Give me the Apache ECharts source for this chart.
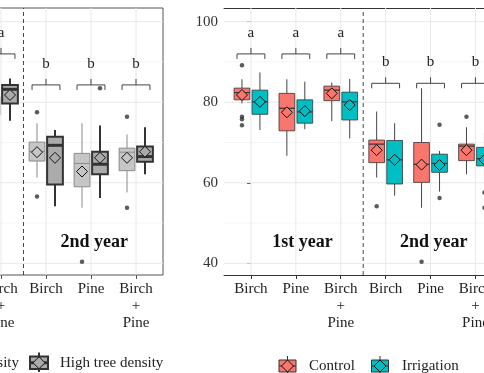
<!DOCTYPE html>
<html><head><meta charset="utf-8">
<script src="https://cdn.jsdelivr.net/npm/echarts@6/dist/echarts.min.js"></script>
<style>html,body{margin:0;padding:0;background:#fff}#c{width:484px;height:373px}</style>
</head><body><div id="c"></div>
<script>
// ---------- data ----------
const categories = ['Birch', 'Pine', 'Birch\n+\nPine', 'Birch', 'Pine', 'Birch\n+\nPine'];
const yTicks = [40, 60, 80, 100];
const yMinor = [50, 70, 90];
const yearLabels = ['1st year', '2nd year'];
const yearLabelX = [1.15, 4.07];
const yearLabelY = 45.1;

// right panel  [whiskerLow, q1, median, q3, whiskerHigh]
const controlBox = [
  [79.7, 80.6, 82.4, 83.5, 85.7],
  [66.7, 72.9, 78.5, 82.2, 85.7],
  [75.3, 80.4, 83.0, 84.0, 84.9],
  [61.3, 65.0, 69.6, 70.6, 77.7],
  [53.8, 60.1, 64.6, 70.0, 83.5],
  [62.1, 65.5, 69.1, 69.6, 73.8]
];
const controlMean = [81.8, 77.5, 82.2, 68.1, 64.5, 68.1];
const controlOut = [[89.2, 76.4, 75.8, 74.3], [], [], [54.2], [40.4], [76.4]];

const irrigationBox = [
  [73.1, 77.0, 80.1, 83.0, 87.4],
  [73.3, 74.8, 77.6, 80.6, 85.1],
  [71.0, 75.6, 80.1, 82.5, 85.8],
  [56.8, 59.7, 65.7, 70.5, 74.8],
  [57.8, 62.6, 64.8, 67.1, 67.9],
  [61.3, 64.2, 66.0, 68.8, 72.3]
];
const irrigationMean = [80.1, 77.8, 79.3, 65.7, 64.4, 65.7];
const irrigationOut = [[], [], [], [], [74.4, 56.2], [57.6, 53.8]];

const rightLetters = ['a', 'a', 'a', 'b', 'b', 'b'];
const rightBracketY = [92.0, 92.0, 92.0, 84.7, 84.7, 84.7];

// left panel (only visible part of the source figure)
const lowBox = [
  null, null,
  [73.5, 76.8, 79.5, 81.4, 85.5],
  [61.3, 65.4, 67.8, 70.1, 74.8],
  [53.8, 59.0, 64.8, 67.3, 74.8],
  [57.6, 63.0, 67.6, 68.6, 72.0]
];
const lowMean = [null, null, 79.0, 67.6, 62.8, 66.2];
const lowOut = [[], [], [], [77.5, 56.6], [40.4], [76.4, 53.8]];

const highBox = [
  null, null,
  [75.4, 79.7, 83.2, 84.3, 85.9],
  [54.2, 59.6, 69.3, 71.4, 73.1],
  [56.2, 62.1, 64.6, 67.7, 74.2],
  [62.1, 65.2, 66.5, 69.0, 73.8]
];
const highMean = [null, null, 81.8, 66.2, 66.2, 67.7];
const highOut = [[], [], [], [], [83.5], []];

const leftLetters = ['a', 'a', 'a', 'b', 'b', 'b'];
const leftBracketY = [92.0, 92.0, 92.0, 84.3, 84.3, 84.3];

// ---------- config ----------
const FONT = "'Liberation Serif','Times New Roman',serif";
const X_MIN = -0.6, X_MAX = 5.6, Y_MIN = 37.1, Y_MAX = 103.4;
const catIdx = categories.map((c, i) => i);
const RED = '#F8766D', TEAL = '#00BFC4', LOWG = '#c6c6c6', HIGHG = '#ababab';

const chart = echarts.init(document.getElementById('c'), null, {renderer: 'canvas'});

function gridLineSeries(xi, yi) {
  const data = [];
  yTicks.forEach(v => data.push([0, v, 1]));
  yMinor.forEach(v => data.push([0, v, 0]));
  catIdx.forEach(i => data.push([i, 60, 2]));
  return {
    type: 'custom', xAxisIndex: xi, yAxisIndex: yi, z: 1, silent: true, clip: true,
    encode: {x: 0, y: 1}, data,
    renderItem(p, api) {
      const kind = api.value(2);
      let a, b;
      if (kind === 2) { a = api.coord([api.value(0), Y_MIN]); b = api.coord([api.value(0), Y_MAX]); }
      else { a = api.coord([X_MIN, api.value(1)]); b = api.coord([X_MAX, api.value(1)]); }
      return {type: 'line', shape: {x1: a[0], y1: a[1], x2: b[0], y2: b[1]},
        style: {stroke: kind === 0 ? '#f3f3f3' : '#e8e8e8', lineWidth: kind === 0 ? 0.8 : 1}};
    }
  };
}

function sepSeries(xi, yi) {
  return {
    type: 'custom', xAxisIndex: xi, yAxisIndex: yi, z: 2, silent: true, clip: true,
    encode: {x: 0, y: 1}, data: [[2.5, 60]],
    renderItem(p, api) {
      const a = api.coord([api.value(0), Y_MIN]), b = api.coord([api.value(0), Y_MAX]);
      return {type: 'line', shape: {x1: a[0], y1: a[1], x2: b[0], y2: b[1]},
        style: {stroke: '#333', lineWidth: 0.9, lineDash: [4, 3]}};
    }
  };
}

function boxSeries(xi, yi, boxes, means, off, st) {
  const data = [];
  boxes.forEach((b, i) => { if (b) data.push([i, b[0], b[1], b[2], b[3], b[4], means[i]]); });
  return {
    type: 'custom', xAxisIndex: xi, yAxisIndex: yi, z: 3, clip: true,
    encode: {x: 0, y: [1, 2, 3, 4, 5, 6]}, data,
    renderItem(p, api) {
      const x = api.value(0);
      const unit = api.size([1, 0])[0];
      const cx = api.coord([x, api.value(3)])[0] + off * unit;
      const hw = 0.175 * unit;
      const y = k => api.coord([x, api.value(k)])[1];
      const wl = y(1), q1 = y(2), md = y(3), q3 = y(4), wh = y(5), mn = y(6);
      const d = 5.5;
      return {type: 'group', children: [
        {type: 'line', shape: {x1: cx, y1: q3, x2: cx, y2: wh}, style: {stroke: st.wStroke, lineWidth: st.wWidth}},
        {type: 'line', shape: {x1: cx, y1: q1, x2: cx, y2: wl}, style: {stroke: st.wStroke, lineWidth: st.wWidth}},
        {type: 'rect', shape: {x: cx - hw, y: q3, width: 2 * hw, height: q1 - q3},
          style: {fill: st.fill, stroke: st.stroke, lineWidth: st.bWidth}},
        {type: 'line', shape: {x1: cx - hw, y1: md, x2: cx + hw, y2: md}, style: {stroke: st.mStroke, lineWidth: st.mWidth}},
        {type: 'polygon', shape: {points: [[cx, mn - d], [cx + d, mn], [cx, mn + d], [cx - d, mn]]},
          style: {fill: st.fill, stroke: '#111', lineWidth: 1}}
      ]};
    }
  };
}

function outSeries(xi, yi, outs, off) {
  const data = [];
  outs.forEach((arr, i) => arr.forEach(v => data.push([i + off, v])));
  return {type: 'scatter', xAxisIndex: xi, yAxisIndex: yi, z: 4, symbol: 'circle', symbolSize: 4.5,
    itemStyle: {color: '#333'}, data, silent: true};
}

function bracketSeries(xi, yi, letters, ys) {
  return {
    type: 'custom', xAxisIndex: xi, yAxisIndex: yi, z: 3, clip: false, silent: true,
    encode: {x: 0, y: 1}, data: ys.map((v, i) => [i, v]),
    renderItem(p, api) {
      const c = api.coord([api.value(0), api.value(1)]);
      const unit = api.size([1, 0])[0];
      const hw = 0.31 * unit, cx = c[0], cy = c[1];
      const s = {stroke: '#444', lineWidth: 1};
      return {type: 'group', children: [
        {type: 'line', shape: {x1: cx - hw, y1: cy, x2: cx + hw, y2: cy}, style: s},
        {type: 'line', shape: {x1: cx, y1: cy, x2: cx, y2: cy - 6}, style: s},
        {type: 'line', shape: {x1: cx - hw, y1: cy, x2: cx - hw, y2: cy + 5}, style: s},
        {type: 'line', shape: {x1: cx + hw, y1: cy, x2: cx + hw, y2: cy + 5}, style: s},
        {type: 'text', style: {text: letters[p.dataIndex], x: cx, y: cy - 21,
          align: 'center', verticalAlign: 'middle', textAlign: 'center', textVerticalAlign: 'middle',
          fontFamily: FONT, fontSize: 15, fill: '#222'}}
      ]};
    }
  };
}

function yearSeries(xi, yi, labels, xs) {
  return {
    type: 'custom', xAxisIndex: xi, yAxisIndex: yi, z: 5, clip: false, silent: true,
    encode: {x: 0, y: 1}, data: xs.map(v => [v, yearLabelY]),
    renderItem(p, api) {
      const c = api.coord([api.value(0), api.value(1)]);
      return {type: 'text', style: {text: labels[p.dataIndex], x: c[0], y: c[1],
        align: 'center', verticalAlign: 'middle', textAlign: 'center', textVerticalAlign: 'middle',
        fontFamily: FONT, fontSize: 18, fontWeight: 'bold', fill: '#111'}};
    }
  };
}

const rStyle = (fill) => ({fill, stroke: '#333', bWidth: 0.8, wStroke: '#444', wWidth: 1, mStroke: '#333', mWidth: 1.2});
const lowStyle = {fill: LOWG, stroke: '#8a8a8a', bWidth: 1, wStroke: '#8a8a8a', wWidth: 1, mStroke: '#8a8a8a', mWidth: 1};
const highStyle = {fill: HIGHG, stroke: '#333', bWidth: 2, wStroke: '#333', wWidth: 2, mStroke: '#333', mWidth: 3};

const xLabel = {customValues: catIdx, formatter: v => categories[Math.round(v)] || '',
  fontFamily: FONT, fontSize: 15, color: '#222', lineHeight: 17, margin: 6};

function legendKey(x, y, w, h, fill, stroke, bw, mw) {
  const cx = x + w / 2, cy = y + h / 2, d = 6;
  return [
    {type: 'line', shape: {x1: cx, y1: y - 4, x2: cx, y2: y + h + 3}, style: {stroke: stroke, lineWidth: bw}},
    {type: 'rect', shape: {x, y, width: w, height: h}, style: {fill, stroke, lineWidth: bw}},
    {type: 'line', shape: {x1: x, y1: cy, x2: x + w, y2: cy}, style: {stroke, lineWidth: mw}},
    {type: 'polygon', shape: {points: [[cx, cy - d], [cx + d, cy], [cx, cy + d], [cx - d, cy]]},
      style: {fill, stroke: '#111', lineWidth: 1}}
  ];
}
const legendText = (t, x, y, align) => ({type: 'text', style: {text: t, x, y, align: align || 'left',
  textAlign: align || 'left', verticalAlign: 'middle', textVerticalAlign: 'middle', fontFamily: FONT, fontSize: 15, fill: '#222'}});

const option = {
  animation: false,
  backgroundColor: '#fff',
  grid: [
    {left: -116, top: 8, width: 279, height: 267, outerBoundsMode: 'none', containLabel: false,
      show: true, borderColor: '#555', borderWidth: 1, backgroundColor: 'transparent'},
    {left: 224, top: 8, width: 278.4, height: 267, outerBoundsMode: 'none', containLabel: false}
  ],
  xAxis: [
    {type: 'value', gridIndex: 0, min: X_MIN, max: X_MAX, axisLine: {show: false},
      axisTick: {show: true, customValues: catIdx, length: 4, lineStyle: {color: '#555'}},
      axisLabel: xLabel, splitLine: {show: false}},
    {type: 'value', gridIndex: 1, min: X_MIN, max: X_MAX, axisLine: {show: true, onZero: false, lineStyle: {color: '#333', width: 1}},
      axisTick: {show: true, customValues: catIdx, length: 4, lineStyle: {color: '#333'}},
      axisLabel: xLabel, splitLine: {show: false}},
    {type: 'value', gridIndex: 1, position: 'top', min: X_MIN, max: X_MAX,
      axisLine: {show: true, onZero: false, lineStyle: {color: '#333', width: 1}},
      axisTick: {show: false}, axisLabel: {show: false}, splitLine: {show: false}}
  ],
  yAxis: [
    {type: 'value', gridIndex: 0, min: Y_MIN, max: Y_MAX, show: false, splitLine: {show: false}},
    {type: 'value', gridIndex: 1, min: Y_MIN, max: Y_MAX, axisLine: {show: false},
      axisTick: {show: true, customValues: yTicks, length: 4, lineStyle: {color: '#333'}},
      axisLabel: {customValues: yTicks, fontFamily: FONT, fontSize: 15, color: '#333', margin: 6},
      splitLine: {show: false}}
  ],
  series: [
    gridLineSeries(0, 0), gridLineSeries(1, 1),
    sepSeries(0, 0), sepSeries(1, 1),
    boxSeries(0, 0, lowBox, lowMean, -0.2, lowStyle),
    boxSeries(0, 0, highBox, highMean, 0.2, highStyle),
    outSeries(0, 0, lowOut, -0.2), outSeries(0, 0, highOut, 0.2),
    bracketSeries(0, 0, leftLetters, leftBracketY),
    yearSeries(0, 0, [yearLabels[1]], [yearLabelX[1]]),
    boxSeries(1, 1, controlBox, controlMean, -0.2, rStyle(RED)),
    boxSeries(1, 1, irrigationBox, irrigationMean, 0.2, rStyle(TEAL)),
    outSeries(1, 1, controlOut, -0.2), outSeries(1, 1, irrigationOut, 0.2),
    bracketSeries(1, 1, rightLetters, rightBracketY),
    yearSeries(1, 1, yearLabels, yearLabelX)
  ],
  graphic: [
    legendText('Low tree density', 19, 363, 'right'),
    ...legendKey(30, 356.5, 18, 12.5, HIGHG, '#333', 2, 3),
    legendText('High tree density', 60, 363),
    ...legendKey(279, 360, 17, 12, RED, '#333', 1, 1),
    legendText('Control', 309, 366),
    ...legendKey(371.5, 360, 17, 12, TEAL, '#333', 1, 1),
    legendText('Irrigation', 402, 366)
  ]
};
chart.setOption(option);
</script></body></html>
